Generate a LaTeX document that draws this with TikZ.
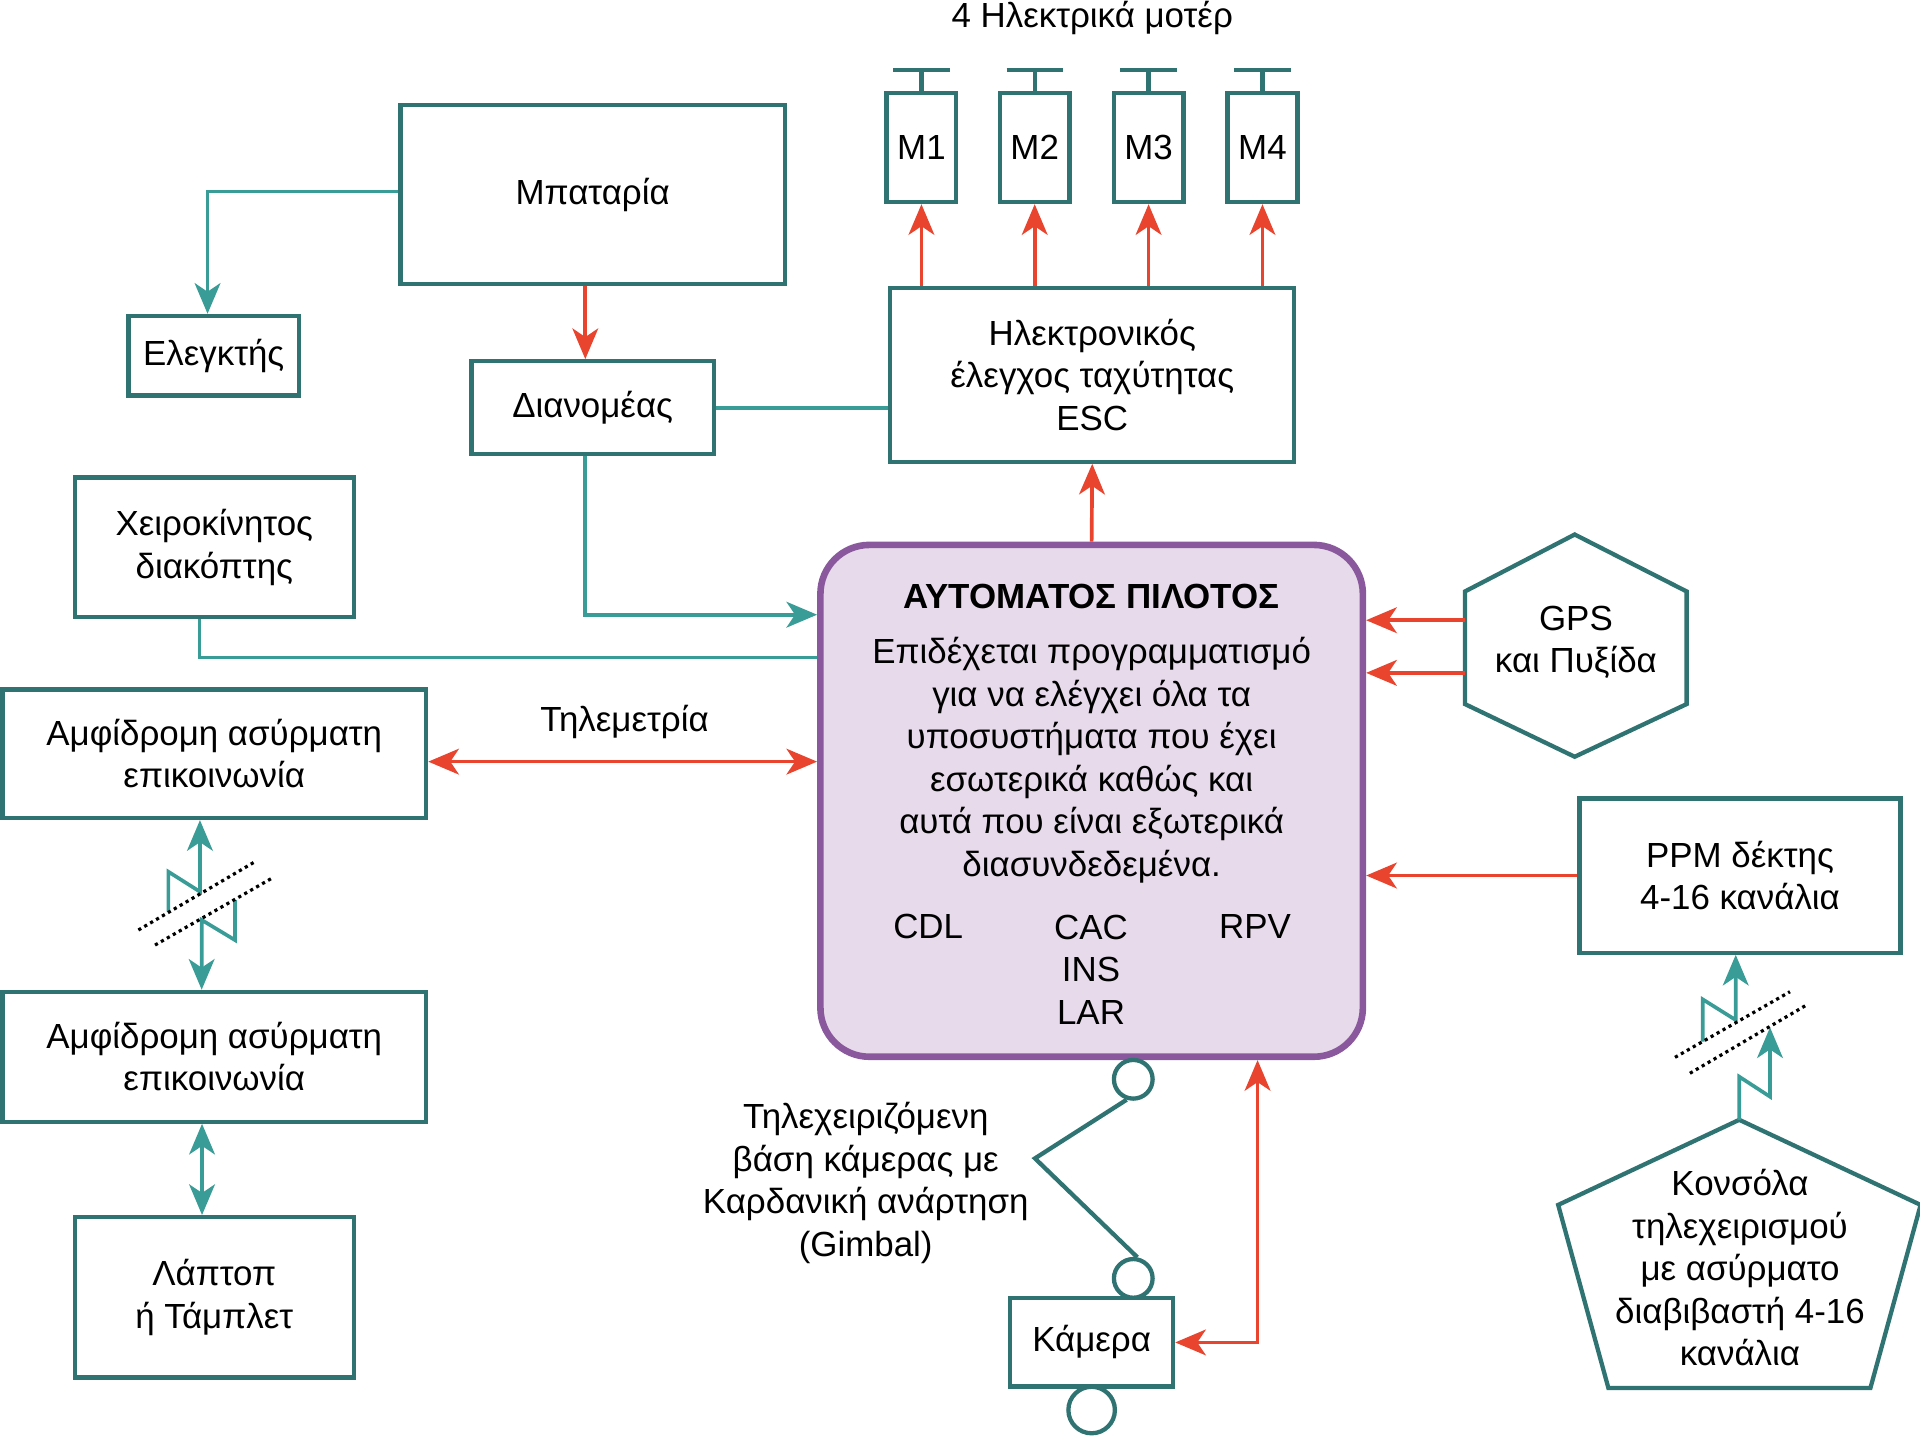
\documentclass[tikz,border=0pt]{standalone}
\usepackage{fontspec}
\setmainfont{Liberation Sans}
\usetikzlibrary{arrows.meta,calc}
\definecolor{boxteal}{HTML}{2F7373}
\definecolor{lineteal}{HTML}{3A9C96}
\definecolor{sigred}{HTML}{E8442E}
\definecolor{appurple}{HTML}{8A589C}
\definecolor{apfill}{HTML}{E7DAEA}

\begin{document}
\begin{tikzpicture}[x=1pt,y=-1pt,
  every node/.style={font=\fontsize{28.5}{34.7}\selectfont, inner sep=0pt},
  block/.style={draw=boxteal, line width=3.5pt, align=center},
  shapeline/.style={draw=boxteal, line width=3.5pt, line join=miter},
  gcirc/.style={circle, draw=boxteal, line width=3.5pt, fill=white},
  tealline/.style={draw=lineteal, line width=3pt},
  redline/.style={draw=sigred, line width=3pt},
  radiolink/.style={draw=black, line width=2.6pt, dash pattern=on 2.6pt off 3pt},
  >={Stealth[length=25pt,width=21pt,inset=7pt]}]

\useasboundingbox (0,0) rectangle (1568,1176);

% ---------- motors ----------
\node (title) at (892,15) {4 Ηλεκτρικά μοτέρ};
\foreach \i/\x in {1/752.5,2/845,3/938,4/1031}{
  \node[block, minimum width=57pt, minimum height=89pt] (m\i) at (\x,120.5) {M\i};
  \draw[shapeline] (m\i.north) -- ++(0,-17) coordinate (cap\i);
  \draw[shapeline] ($(cap\i)+(-23,0)$) -- ($(cap\i)+(23,0)$);
}

% ---------- power path ----------
\node[block, minimum width=314pt, minimum height=146pt] (bat) at (484,159) {Μπαταρία};
\node[block, minimum width=139pt, minimum height=65pt] (ctrl) at (174.5,290.5) {Ελεγκτής};
\node[block, minimum width=198pt, minimum height=76pt] (dist) at (484,333) {Διανομέας};
\node[block, minimum width=330pt, minimum height=142pt] (esc) at (892,306)
  {Ηλεκτρονικός\\έλεγχος ταχύτητας\\ESC};

% ---------- autopilot ----------
\node[draw=appurple, line width=5.4pt, fill=apfill, rounded corners=40pt,
      minimum width=443pt, minimum height=418pt] (ap) at (891.5,654) {};
\node[font=\fontsize{28.5}{34.7}\selectfont\bfseries] (aptitle) at (891.5,487) {ΑΥΤΟΜΑΤΟΣ ΠΙΛΟΤΟΣ};
\node[align=center] (apbody) at (891.5,621)
  {Επιδέχεται προγραμματισμό\\για να ελέγχει όλα τα\\υποσυστήματα που έχει\\εσωτερικά καθώς και\\αυτά που είναι εξωτερικά\\διασυνδεδεμένα.};
\node (cdl) at (758,757) {CDL};
\node[align=center] (cac) at (891,792) {CAC\\INS\\LAR};
\node (rpv) at (1025,757) {RPV};

% ---------- left column ----------
\node[block, minimum width=228pt, minimum height=114pt] (manual) at (175,447) {Χειροκίνητος\\διακόπτης};
\node[block, minimum width=346pt, minimum height=105pt] (wl1) at (175,615.5) {Αμφίδρομη ασύρματη\\επικοινωνία};
\node[block, minimum width=346pt, minimum height=106pt] (wl2) at (175,863) {Αμφίδρομη ασύρματη\\επικοινωνία};
\node[block, minimum width=228pt, minimum height=131pt] (laptop) at (175,1059.5) {Λάπτοπ\\ή Τάμπλετ};
\node (telem) at (510,590) {Τηλεμετρία};

% ---------- right column ----------
\coordinate (h1) at (1286,436.5);
\coordinate (h2) at (1377.4,483);
\coordinate (h3) at (1377.4,575);
\coordinate (h4) at (1286,618);
\coordinate (h5) at (1196.4,575);
\coordinate (h6) at (1196.4,483);
\draw[shapeline] (h1) -- (h2) -- (h3) -- (h4) -- (h5) -- (h6) -- cycle;
\node[align=center] (gps) at (1287,524.5) {GPS\\και Πυξίδα};
\coordinate (gpsA) at (1196.4,506.5);
\coordinate (gpsB) at (1196.4,549.5);

\node[block, minimum width=262pt, minimum height=126pt] (ppm) at (1421,715) {PPM δέκτης\\4-16 κανάλια};

\coordinate (p1) at (1420.4,914.5);
\coordinate (p2) at (1568.5,984);
\coordinate (p3) at (1527.5,1133.5);
\coordinate (p4) at (1313.5,1133.5);
\coordinate (p5) at (1272.5,984);
\draw[shapeline] (p1) -- (p2) -- (p3) -- (p4) -- (p5) -- cycle;
\node[align=center] (console) at (1421,1035.5)
  {Κονσόλα\\τηλεχειρισμού\\με ασύρματο\\διαβιβαστή 4-16\\κανάλια};

% ---------- camera and gimbal ----------
\node[gcirc, minimum size=31.6pt] (g1) at (925.5,881.4) {};
\node[gcirc, minimum size=31.6pt] (g2) at (925.5,1044) {};
\node[block, minimum width=133pt, minimum height=72pt] (cam) at (891.5,1096.3) {Κάμερα};
\node[gcirc, minimum size=38pt] (g3) at (891.5,1151.5) {};
\draw[shapeline] (g1.252) -- (845.2,946) coordinate (gknee) -- (g2.79);
\node[align=center] (gimbal) at (707,966)
  {Τηλεχειριζόμενη\\βάση κάμερας με\\Καρδανική ανάρτηση\\(Gimbal)};

% ---------- red signal connectors ----------
\foreach \i in {1,...,4}{
  \draw[redline,->] (esc.north -| m\i.south) -- (m\i.south);
}
\draw[redline,->] ($(bat.south)+(-6,0)$) -- ($(dist.north)+(-6,0)$);
\draw[redline,->] (ap.north) -- (esc.south);
\draw[redline,->] (gpsA) -- (gpsA -| ap.east);
\draw[redline,->] (gpsB) -- (gpsB -| ap.east);
\draw[redline,->] (ppm.west) -- (ppm.west -| ap.east);
\coordinate (telL) at ($(wl1.east)+(0,6.5)$);
\draw[redline,<->] (telL) -- (telL -| ap.west);
\draw[redline,<->] ($(ap.south)+(135.5,0)$) |- (cam.east);

% ---------- teal connectors ----------
\draw[tealline,->] ($(bat.west)+(0,-2.5)$) -| ($(ctrl.north)+(-5,0)$);
\draw[tealline] (dist.east) -- (dist.east -| esc.west);
\draw[tealline,->] ($(dist.south)+(-6,0)$) |- (ap.west |- 0,502);
\draw[tealline] ($(manual.south)+(-12,0)$) |- (ap.west |- 0,537);
\draw[tealline,<->] ($(wl2.south)+(-10,0)$) -- ($(laptop.north)+(-10,0)$);

% wireless link between the two transceivers
\draw[tealline,->] (137.5,744.5) -- (137.5,711.9) -- (163.3,728.2) -- (wl1.south -| 163.3,0);
\draw[tealline,->] (191.9,735) -- (191.9,767.7) -- (164.7,751.3) -- (wl2.north -| 164.7,0);
\draw[radiolink] (113,759.5) -- (208.3,703.7);
\draw[radiolink] (126.6,771.8) -- (221.9,717.3);

% wireless link from the console to the receiver
\draw[tealline,->] (1390.5,850.7) -- (1390.5,816.1) -- (1417.5,833) -- (ppm.south -| 1417.5,0);
\draw[tealline,->] (p1) -- ++(0,-35.2) -- ++(25.1,16.3) -- ++(0,-56.6);
\draw[radiolink] (1367.9,863.5) -- (1461.8,809.9);
\draw[radiolink] (1380.1,876.5) -- (1475.4,820.7);

\end{tikzpicture}
\end{document}
